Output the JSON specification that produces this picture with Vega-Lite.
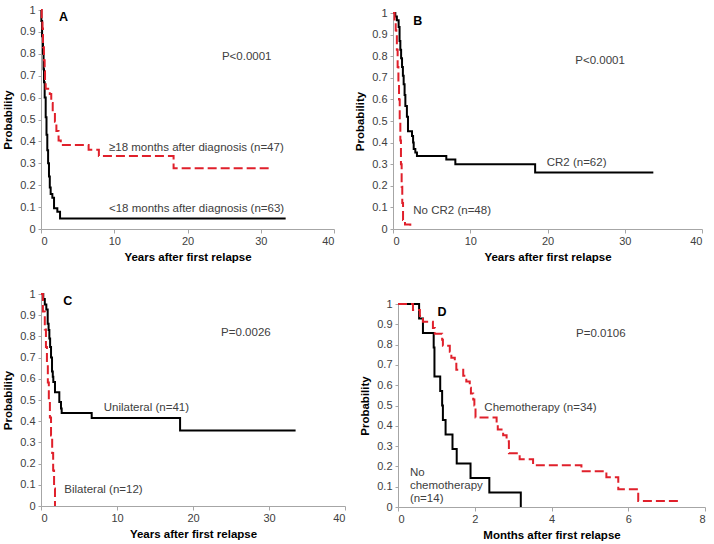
{
  "$schema": "https://vega.github.io/schema/vega-lite/v6.json",
  "padding": {"left": 2, "top": 4, "right": 2, "bottom": 2},
  "background": "white",
  "config": {
    "view": {"stroke": null},
    "font": "Liberation Sans",
    "axis": {
      "grid": false,
      "domainColor": "#a6a6a6",
      "tickColor": "#a6a6a6",
      "labelColor": "#404040",
      "labelFont": "Liberation Sans",
      "labelFontSize": 11,
      "titleFont": "Liberation Sans",
      "titleFontSize": 11.5,
      "titleFontWeight": "bold",
      "titleColor": "#000000"
    },
    "axisX": {"tickSize": 4, "labelPadding": 2, "titlePadding": 5},
    "axisY": {"tickSize": 3, "labelPadding": 3, "titlePadding": 6}
  },
  "datasets": {
    "curves": [
      {"panel": "A", "group": "≥18 months", "t": 0, "p": 1},
      {"panel": "A", "group": "≥18 months", "t": 0.1, "p": 0.957},
      {"panel": "A", "group": "≥18 months", "t": 0.2, "p": 0.915},
      {"panel": "A", "group": "≥18 months", "t": 0.27, "p": 0.83},
      {"panel": "A", "group": "≥18 months", "t": 0.4, "p": 0.77},
      {"panel": "A", "group": "≥18 months", "t": 0.5, "p": 0.72},
      {"panel": "A", "group": "≥18 months", "t": 0.55, "p": 0.68},
      {"panel": "A", "group": "≥18 months", "t": 0.64, "p": 0.64},
      {"panel": "A", "group": "≥18 months", "t": 1.2, "p": 0.617},
      {"panel": "A", "group": "≥18 months", "t": 1.4, "p": 0.575},
      {"panel": "A", "group": "≥18 months", "t": 1.6, "p": 0.532},
      {"panel": "A", "group": "≥18 months", "t": 1.9, "p": 0.49},
      {"panel": "A", "group": "≥18 months", "t": 2.1, "p": 0.447},
      {"panel": "A", "group": "≥18 months", "t": 2.4, "p": 0.404},
      {"panel": "A", "group": "≥18 months", "t": 2.7, "p": 0.383},
      {"panel": "A", "group": "≥18 months", "t": 6.5, "p": 0.362},
      {"panel": "A", "group": "≥18 months", "t": 7.9, "p": 0.333},
      {"panel": "A", "group": "≥18 months", "t": 18.1, "p": 0.277},
      {"panel": "A", "group": "≥18 months", "t": 31.6, "p": 0.277},
      {"panel": "A", "group": "<18 months", "t": 0, "p": 1},
      {"panel": "A", "group": "<18 months", "t": 0.05, "p": 0.95},
      {"panel": "A", "group": "<18 months", "t": 0.15, "p": 0.88},
      {"panel": "A", "group": "<18 months", "t": 0.27, "p": 0.8},
      {"panel": "A", "group": "<18 months", "t": 0.35, "p": 0.73},
      {"panel": "A", "group": "<18 months", "t": 0.41, "p": 0.67},
      {"panel": "A", "group": "<18 months", "t": 0.5, "p": 0.6},
      {"panel": "A", "group": "<18 months", "t": 0.64, "p": 0.51},
      {"panel": "A", "group": "<18 months", "t": 0.75, "p": 0.43},
      {"panel": "A", "group": "<18 months", "t": 0.86, "p": 0.36},
      {"panel": "A", "group": "<18 months", "t": 0.97, "p": 0.3},
      {"panel": "A", "group": "<18 months", "t": 1.09, "p": 0.24},
      {"panel": "A", "group": "<18 months", "t": 1.2, "p": 0.19},
      {"panel": "A", "group": "<18 months", "t": 1.32, "p": 0.16},
      {"panel": "A", "group": "<18 months", "t": 1.55, "p": 0.143},
      {"panel": "A", "group": "<18 months", "t": 1.78, "p": 0.095},
      {"panel": "A", "group": "<18 months", "t": 2.23, "p": 0.079},
      {"panel": "A", "group": "<18 months", "t": 2.6, "p": 0.048},
      {"panel": "A", "group": "<18 months", "t": 33.4, "p": 0.048},
      {"panel": "B", "group": "No CR2", "t": 0, "p": 1},
      {"panel": "B", "group": "No CR2", "t": 0.2, "p": 0.96},
      {"panel": "B", "group": "No CR2", "t": 0.35, "p": 0.92},
      {"panel": "B", "group": "No CR2", "t": 0.43, "p": 0.9},
      {"panel": "B", "group": "No CR2", "t": 0.5, "p": 0.83},
      {"panel": "B", "group": "No CR2", "t": 0.6, "p": 0.75},
      {"panel": "B", "group": "No CR2", "t": 0.7, "p": 0.67},
      {"panel": "B", "group": "No CR2", "t": 0.78, "p": 0.6},
      {"panel": "B", "group": "No CR2", "t": 0.87, "p": 0.5},
      {"panel": "B", "group": "No CR2", "t": 0.95, "p": 0.41},
      {"panel": "B", "group": "No CR2", "t": 1.03, "p": 0.3},
      {"panel": "B", "group": "No CR2", "t": 1.12, "p": 0.196},
      {"panel": "B", "group": "No CR2", "t": 1.2, "p": 0.12},
      {"panel": "B", "group": "No CR2", "t": 1.3, "p": 0.042},
      {"panel": "B", "group": "No CR2", "t": 1.55, "p": 0.021},
      {"panel": "B", "group": "No CR2", "t": 2.24, "p": 0},
      {"panel": "B", "group": "CR2", "t": 0, "p": 1},
      {"panel": "B", "group": "CR2", "t": 0.3, "p": 0.984},
      {"panel": "B", "group": "CR2", "t": 0.5, "p": 0.966},
      {"panel": "B", "group": "CR2", "t": 0.73, "p": 0.935},
      {"panel": "B", "group": "CR2", "t": 0.85, "p": 0.87},
      {"panel": "B", "group": "CR2", "t": 0.95, "p": 0.83},
      {"panel": "B", "group": "CR2", "t": 1.05, "p": 0.79},
      {"panel": "B", "group": "CR2", "t": 1.17, "p": 0.75},
      {"panel": "B", "group": "CR2", "t": 1.28, "p": 0.71},
      {"panel": "B", "group": "CR2", "t": 1.38, "p": 0.67},
      {"panel": "B", "group": "CR2", "t": 1.5, "p": 0.62},
      {"panel": "B", "group": "CR2", "t": 1.6, "p": 0.57},
      {"panel": "B", "group": "CR2", "t": 1.8, "p": 0.52},
      {"panel": "B", "group": "CR2", "t": 1.94, "p": 0.452},
      {"panel": "B", "group": "CR2", "t": 2.46, "p": 0.43},
      {"panel": "B", "group": "CR2", "t": 2.6, "p": 0.4},
      {"panel": "B", "group": "CR2", "t": 2.68, "p": 0.37},
      {"panel": "B", "group": "CR2", "t": 2.89, "p": 0.354},
      {"panel": "B", "group": "CR2", "t": 3.1, "p": 0.338},
      {"panel": "B", "group": "CR2", "t": 6.9, "p": 0.322},
      {"panel": "B", "group": "CR2", "t": 8.07, "p": 0.3},
      {"panel": "B", "group": "CR2", "t": 18.4, "p": 0.262},
      {"panel": "B", "group": "CR2", "t": 33.7, "p": 0.262},
      {"panel": "C", "group": "Bilateral", "t": 0, "p": 1},
      {"panel": "C", "group": "Bilateral", "t": 0.25, "p": 0.917},
      {"panel": "C", "group": "Bilateral", "t": 0.5, "p": 0.833},
      {"panel": "C", "group": "Bilateral", "t": 0.65, "p": 0.75},
      {"panel": "C", "group": "Bilateral", "t": 0.78, "p": 0.667},
      {"panel": "C", "group": "Bilateral", "t": 0.9, "p": 0.583},
      {"panel": "C", "group": "Bilateral", "t": 1.03, "p": 0.5},
      {"panel": "C", "group": "Bilateral", "t": 1.17, "p": 0.417},
      {"panel": "C", "group": "Bilateral", "t": 1.32, "p": 0.333},
      {"panel": "C", "group": "Bilateral", "t": 1.47, "p": 0.25},
      {"panel": "C", "group": "Bilateral", "t": 1.6, "p": 0.167},
      {"panel": "C", "group": "Bilateral", "t": 1.72, "p": 0.083},
      {"panel": "C", "group": "Bilateral", "t": 1.84, "p": 0},
      {"panel": "C", "group": "Unilateral", "t": 0, "p": 1},
      {"panel": "C", "group": "Unilateral", "t": 0.3, "p": 0.976},
      {"panel": "C", "group": "Unilateral", "t": 0.5, "p": 0.95},
      {"panel": "C", "group": "Unilateral", "t": 0.7, "p": 0.927},
      {"panel": "C", "group": "Unilateral", "t": 0.88, "p": 0.86},
      {"panel": "C", "group": "Unilateral", "t": 1.0, "p": 0.83},
      {"panel": "C", "group": "Unilateral", "t": 1.1, "p": 0.79},
      {"panel": "C", "group": "Unilateral", "t": 1.2, "p": 0.75},
      {"panel": "C", "group": "Unilateral", "t": 1.32, "p": 0.7},
      {"panel": "C", "group": "Unilateral", "t": 1.45, "p": 0.635},
      {"panel": "C", "group": "Unilateral", "t": 1.55, "p": 0.61},
      {"panel": "C", "group": "Unilateral", "t": 1.62, "p": 0.585},
      {"panel": "C", "group": "Unilateral", "t": 1.84, "p": 0.537},
      {"panel": "C", "group": "Unilateral", "t": 2.41, "p": 0.49},
      {"panel": "C", "group": "Unilateral", "t": 2.63, "p": 0.46},
      {"panel": "C", "group": "Unilateral", "t": 2.72, "p": 0.439},
      {"panel": "C", "group": "Unilateral", "t": 6.67, "p": 0.415},
      {"panel": "C", "group": "Unilateral", "t": 18.3, "p": 0.356},
      {"panel": "C", "group": "Unilateral", "t": 33.5, "p": 0.356},
      {"panel": "D", "group": "Chemotherapy", "t": 0, "p": 1},
      {"panel": "D", "group": "Chemotherapy", "t": 0.39, "p": 0.971},
      {"panel": "D", "group": "Chemotherapy", "t": 0.57, "p": 0.941},
      {"panel": "D", "group": "Chemotherapy", "t": 0.65, "p": 0.912},
      {"panel": "D", "group": "Chemotherapy", "t": 0.91, "p": 0.882},
      {"panel": "D", "group": "Chemotherapy", "t": 0.96, "p": 0.853},
      {"panel": "D", "group": "Chemotherapy", "t": 1.15, "p": 0.824},
      {"panel": "D", "group": "Chemotherapy", "t": 1.17, "p": 0.794},
      {"panel": "D", "group": "Chemotherapy", "t": 1.35, "p": 0.765},
      {"panel": "D", "group": "Chemotherapy", "t": 1.39, "p": 0.735},
      {"panel": "D", "group": "Chemotherapy", "t": 1.48, "p": 0.706},
      {"panel": "D", "group": "Chemotherapy", "t": 1.52, "p": 0.676},
      {"panel": "D", "group": "Chemotherapy", "t": 1.7, "p": 0.647},
      {"panel": "D", "group": "Chemotherapy", "t": 1.78, "p": 0.618},
      {"panel": "D", "group": "Chemotherapy", "t": 1.87, "p": 0.588},
      {"panel": "D", "group": "Chemotherapy", "t": 1.9, "p": 0.559},
      {"panel": "D", "group": "Chemotherapy", "t": 1.96, "p": 0.529},
      {"panel": "D", "group": "Chemotherapy", "t": 1.99, "p": 0.5},
      {"panel": "D", "group": "Chemotherapy", "t": 2.02, "p": 0.441},
      {"panel": "D", "group": "Chemotherapy", "t": 2.57, "p": 0.412},
      {"panel": "D", "group": "Chemotherapy", "t": 2.6, "p": 0.382},
      {"panel": "D", "group": "Chemotherapy", "t": 2.74, "p": 0.353},
      {"panel": "D", "group": "Chemotherapy", "t": 2.83, "p": 0.324},
      {"panel": "D", "group": "Chemotherapy", "t": 2.89, "p": 0.265},
      {"panel": "D", "group": "Chemotherapy", "t": 3.17, "p": 0.235},
      {"panel": "D", "group": "Chemotherapy", "t": 3.52, "p": 0.206},
      {"panel": "D", "group": "Chemotherapy", "t": 4.78, "p": 0.176},
      {"panel": "D", "group": "Chemotherapy", "t": 5.43, "p": 0.147},
      {"panel": "D", "group": "Chemotherapy", "t": 5.74, "p": 0.088},
      {"panel": "D", "group": "Chemotherapy", "t": 6.26, "p": 0.029},
      {"panel": "D", "group": "Chemotherapy", "t": 7.39, "p": 0.029},
      {"panel": "D", "group": "No chemotherapy", "t": 0, "p": 1},
      {"panel": "D", "group": "No chemotherapy", "t": 0.55, "p": 0.929},
      {"panel": "D", "group": "No chemotherapy", "t": 0.65, "p": 0.857},
      {"panel": "D", "group": "No chemotherapy", "t": 0.93, "p": 0.786},
      {"panel": "D", "group": "No chemotherapy", "t": 0.95, "p": 0.643},
      {"panel": "D", "group": "No chemotherapy", "t": 1.1, "p": 0.571},
      {"panel": "D", "group": "No chemotherapy", "t": 1.15, "p": 0.5},
      {"panel": "D", "group": "No chemotherapy", "t": 1.17, "p": 0.429},
      {"panel": "D", "group": "No chemotherapy", "t": 1.24, "p": 0.357},
      {"panel": "D", "group": "No chemotherapy", "t": 1.42, "p": 0.286},
      {"panel": "D", "group": "No chemotherapy", "t": 1.53, "p": 0.214},
      {"panel": "D", "group": "No chemotherapy", "t": 1.89, "p": 0.143},
      {"panel": "D", "group": "No chemotherapy", "t": 2.38, "p": 0.071},
      {"panel": "D", "group": "No chemotherapy", "t": 3.2, "p": 0}
    ],
    "labels": [
      {"panel": "A", "kind": "letter", "t": 2.46, "p": 0.968, "text": "A"},
      {"panel": "A", "kind": "note", "t": 24.7, "p": 0.787, "text": "P<0.0001"},
      {"panel": "A", "kind": "note", "t": 9.28, "p": 0.371, "text": "≥18 months after diagnosis (n=47)"},
      {"panel": "A", "kind": "note", "t": 9.28, "p": 0.09, "text": "<18 months after diagnosis (n=63)"},
      {"panel": "B", "kind": "letter", "t": 2.63, "p": 0.964, "text": "B"},
      {"panel": "B", "kind": "note", "t": 23.6, "p": 0.779, "text": "P<0.0001"},
      {"panel": "B", "kind": "note", "t": 19.9, "p": 0.304, "text": "CR2 (n=62)"},
      {"panel": "B", "kind": "note", "t": 2.63, "p": 0.085, "text": "No CR2 (n=48)"},
      {"panel": "C", "kind": "letter", "t": 2.93, "p": 0.967, "text": "C"},
      {"panel": "C", "kind": "note", "t": 23.7, "p": 0.817, "text": "P=0.0026"},
      {"panel": "C", "kind": "note", "t": 8.25, "p": 0.464, "text": "Unilateral (n=41)"},
      {"panel": "C", "kind": "note", "t": 3.07, "p": 0.075, "text": "Bilateral (n=12)"},
      {"panel": "D", "kind": "letter", "t": 1.03, "p": 0.962, "text": "D"},
      {"panel": "D", "kind": "note", "t": 4.64, "p": 0.854, "text": "P=0.0106"},
      {"panel": "D", "kind": "note", "t": 2.25, "p": 0.489, "text": "Chemotherapy (n=34)"},
      {"panel": "D", "kind": "note", "t": 0.31, "p": 0.169, "text": "No"},
      {"panel": "D", "kind": "note", "t": 0.31, "p": 0.103, "text": "chemotherapy"},
      {"panel": "D", "kind": "note", "t": 0.31, "p": 0.038, "text": "(n=14)"}
    ]
  },
  "spacing": 25,
  "vconcat": [
    {
      "spacing": 19,
      "hconcat": [
        {
          "width": 293, "height": 219,
          "encoding": {
            "x": {"field": "t", "type": "quantitative", "scale": {"domain": [0, 40], "nice": false}, "axis": {"values": [0, 10, 20, 30, 40], "title": "Years after first relapse"}},
            "y": {"field": "p", "type": "quantitative", "scale": {"domain": [0, 1], "nice": false}, "axis": {"values": [0, 0.1, 0.2, 0.3, 0.4, 0.5, 0.6, 0.7, 0.8, 0.9, 1], "format": "~g", "title": "Probability"}}
          },
          "layer": [
            {"data": {"name": "curves"}, "transform": [{"filter": "datum.group === '<18 months'"}], "mark": {"type": "line", "interpolate": "step-after", "color": "#000000", "strokeWidth": 2}},
            {"data": {"name": "curves"}, "transform": [{"filter": "datum.group === '≥18 months'"}], "mark": {"type": "line", "interpolate": "step-after", "color": "#e0202b", "strokeWidth": 2, "strokeDash": [9, 4]}},
            {"data": {"name": "labels"}, "transform": [{"filter": "datum.panel === 'A' && datum.kind === 'note'"}], "mark": {"type": "text", "align": "left", "baseline": "middle", "fontSize": 11.5, "color": "#404040"}, "encoding": {"text": {"field": "text"}}},
            {"data": {"name": "labels"}, "transform": [{"filter": "datum.panel === 'A' && datum.kind === 'letter'"}], "mark": {"type": "text", "align": "left", "baseline": "middle", "fontSize": 12.5, "fontWeight": "bold", "color": "#000000"}, "encoding": {"text": {"field": "text"}}}
          ]
        },
        {
          "width": 309, "height": 219,
          "encoding": {
            "x": {"field": "t", "type": "quantitative", "scale": {"domain": [0, 40], "nice": false}, "axis": {"values": [0, 10, 20, 30, 40], "title": "Years after first relapse"}},
            "y": {"field": "p", "type": "quantitative", "scale": {"domain": [0, 1], "nice": false, "range": [219, 3]}, "axis": {"values": [0, 0.1, 0.2, 0.3, 0.4, 0.5, 0.6, 0.7, 0.8, 0.9, 1], "format": "~g", "title": "Probability"}}
          },
          "layer": [
            {"data": {"name": "curves"}, "transform": [{"filter": "datum.group === 'CR2'"}], "mark": {"type": "line", "interpolate": "step-after", "color": "#000000", "strokeWidth": 2}},
            {"data": {"name": "curves"}, "transform": [{"filter": "datum.group === 'No CR2'"}], "mark": {"type": "line", "interpolate": "step-after", "color": "#e0202b", "strokeWidth": 2, "strokeDash": [9, 4]}},
            {"data": {"name": "labels"}, "transform": [{"filter": "datum.panel === 'B' && datum.kind === 'note'"}], "mark": {"type": "text", "align": "left", "baseline": "middle", "fontSize": 11.5, "color": "#404040"}, "encoding": {"text": {"field": "text"}}},
            {"data": {"name": "labels"}, "transform": [{"filter": "datum.panel === 'B' && datum.kind === 'letter'"}], "mark": {"type": "text", "align": "left", "baseline": "middle", "fontSize": 12.5, "fontWeight": "bold", "color": "#000000"}, "encoding": {"text": {"field": "text"}}}
          ]
        }
      ]
    },
    {
      "spacing": 13,
      "hconcat": [
        {
          "width": 304, "height": 212,
          "encoding": {
            "x": {"field": "t", "type": "quantitative", "scale": {"domain": [0, 40], "nice": false}, "axis": {"values": [0, 10, 20, 30, 40], "title": "Years after first relapse"}},
            "y": {"field": "p", "type": "quantitative", "scale": {"domain": [0, 1], "nice": false}, "axis": {"values": [0, 0.1, 0.2, 0.3, 0.4, 0.5, 0.6, 0.7, 0.8, 0.9, 1], "format": "~g", "title": "Probability"}}
          },
          "layer": [
            {"data": {"name": "curves"}, "transform": [{"filter": "datum.group === 'Unilateral'"}], "mark": {"type": "line", "interpolate": "step-after", "color": "#000000", "strokeWidth": 2}},
            {"data": {"name": "curves"}, "transform": [{"filter": "datum.group === 'Bilateral'"}], "mark": {"type": "line", "interpolate": "step-after", "color": "#e0202b", "strokeWidth": 2, "strokeDash": [9, 4]}},
            {"data": {"name": "labels"}, "transform": [{"filter": "datum.panel === 'C' && datum.kind === 'note'"}], "mark": {"type": "text", "align": "left", "baseline": "middle", "fontSize": 11.5, "color": "#404040"}, "encoding": {"text": {"field": "text"}}},
            {"data": {"name": "labels"}, "transform": [{"filter": "datum.panel === 'C' && datum.kind === 'letter'"}], "mark": {"type": "text", "align": "left", "baseline": "middle", "fontSize": 12.5, "fontWeight": "bold", "color": "#000000"}, "encoding": {"text": {"field": "text"}}}
          ]
        },
        {
          "width": 307, "height": 213,
          "encoding": {
            "x": {"field": "t", "type": "quantitative", "scale": {"domain": [0, 8], "nice": false}, "axis": {"values": [0, 2, 4, 6, 8], "title": "Months after first relapse"}},
            "y": {"field": "p", "type": "quantitative", "scale": {"domain": [0, 1], "nice": false, "range": [213, 10]}, "axis": {"values": [0, 0.1, 0.2, 0.3, 0.4, 0.5, 0.6, 0.7, 0.8, 0.9, 1], "format": "~g", "title": "Probability"}}
          },
          "layer": [
            {"data": {"name": "curves"}, "transform": [{"filter": "datum.group === 'No chemotherapy'"}], "mark": {"type": "line", "interpolate": "step-after", "color": "#000000", "strokeWidth": 2}},
            {"data": {"name": "curves"}, "transform": [{"filter": "datum.group === 'Chemotherapy'"}], "mark": {"type": "line", "interpolate": "step-after", "color": "#e0202b", "strokeWidth": 2, "strokeDash": [9, 4]}},
            {"data": {"name": "labels"}, "transform": [{"filter": "datum.panel === 'D' && datum.kind === 'note'"}], "mark": {"type": "text", "align": "left", "baseline": "middle", "fontSize": 11.5, "color": "#404040"}, "encoding": {"text": {"field": "text"}}},
            {"data": {"name": "labels"}, "transform": [{"filter": "datum.panel === 'D' && datum.kind === 'letter'"}], "mark": {"type": "text", "align": "left", "baseline": "middle", "fontSize": 12.5, "fontWeight": "bold", "color": "#000000"}, "encoding": {"text": {"field": "text"}}}
          ]
        }
      ]
    }
  ]
}
